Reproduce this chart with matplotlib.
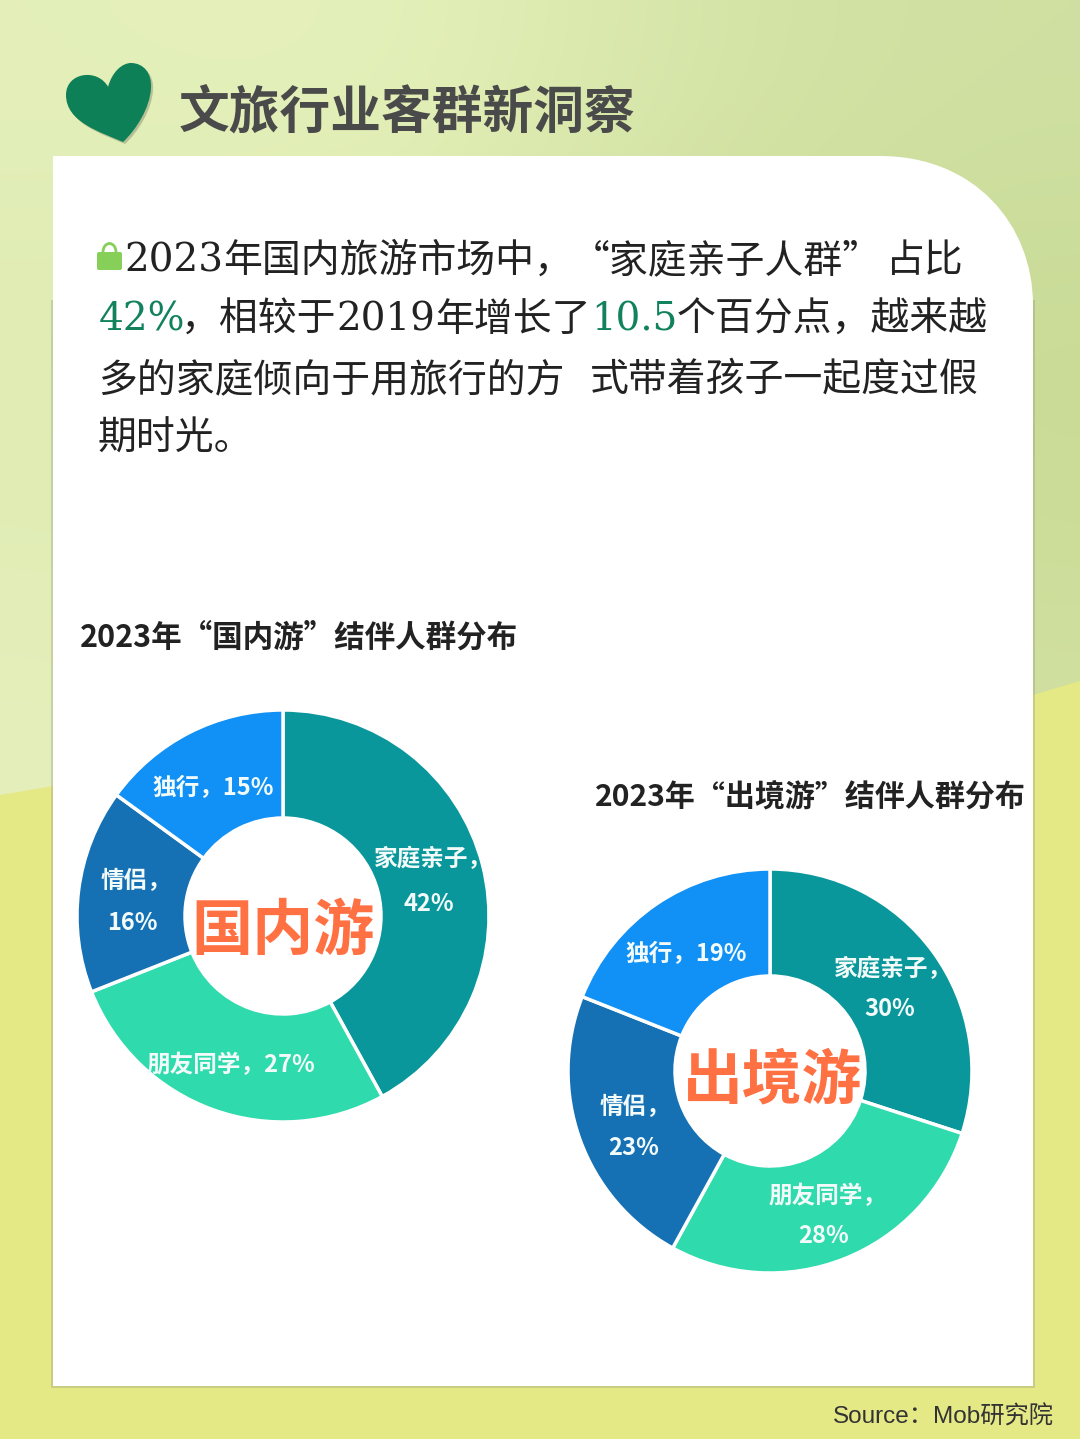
import matplotlib
matplotlib.use("Agg")
import matplotlib.pyplot as plt
import numpy as np
from matplotlib.patches import FancyBboxPatch, PathPatch, Polygon, Arc, Rectangle
from matplotlib.path import Path

W, H = 1080, 1439

categories = ["家庭亲子", "朋友同学", "情侣", "独行"]
domestic_values = [42, 27, 16, 15]
outbound_values = [30, 28, 23, 19]
colors = ["#0A979B", "#2FDAAC", "#1570B4", "#1190F5"]

title = "文旅行业客群新洞察"
domestic_title = "2023年“国内游”结伴人群分布"
outbound_title = "2023年“出境游”结伴人群分布"
source = "Source：Mob研究院"

CJK = "Noto Sans CJK SC"
BODY = ["DejaVu Serif", CJK]
INK = "#222222"
GREEN = "#12825E"

# text runs of the paragraph: x, y, string, colour
body_runs = [
    (124, 261, "2023", INK), (223, 261, "年国内旅游市场中，", INK),
    (571, 261, "“家庭亲子人群”", INK), (886, 261, "占比", INK),
    (99, 320, "42%", GREEN), (181, 320, "，相较于", INK), (336, 320, "2019", INK),
    (435, 320, "年增长了", INK), (591, 320, "10.5", GREEN),
    (677, 320, "个百分点，越来越", INK),
    (98, 380, "多的家庭倾向于用旅行的方", INK), (590, 380, "式带着孩子一起度过假", INK),
    (98, 439, "期时光。", INK),
]

fig = plt.figure(figsize=(W / 100, H / 100), dpi=100)

# background and card
bg = fig.add_axes([0, 0, 1, 1])
bg.axis("off")

wash = np.array([
    ["#E4EFBA", "#E6F2BC", "#D6E5A8", "#CFE0A2"],
    ["#DFECB2", "#D9E8AA", "#CEDF9C", "#C9DB96"],
    ["#E2EDB6", "#DEEAB0", "#D4E3A4", "#CBDC98"],
    ["#E5EFBC", "#E2ECB6", "#DAE7AC", "#D2E1A2"],
])
rgb = np.array([[matplotlib.colors.to_rgb(c) for c in row] for row in wash])
bg.imshow(rgb, extent=(0, W, 850, 0), interpolation="bicubic", aspect="auto", zorder=0)
bg.set_xlim(0, W)
bg.set_ylim(H, 0)
bg.add_patch(Polygon([(0, 795), (53, 786), (1033, 695), (W, 681), (W, H), (0, H)],
                     fc="#E4E986", ec="none", zorder=1))

card_verts = [(53, 156), (880, 156), (975, 156), (1033, 225), (1033, 305),
              (1033, 1386), (53, 1386), (53, 156)]
card_codes = [Path.MOVETO, Path.LINETO, Path.CURVE4, Path.CURVE4, Path.CURVE4,
              Path.LINETO, Path.LINETO, Path.CLOSEPOLY]
bg.add_patch(Rectangle((51, 300), 984, 1088, fc="#8A8F70", ec="none", alpha=0.3, zorder=2))
bg.add_patch(PathPatch(Path(card_verts, card_codes), fc="white", ec="none", zorder=3))

# heart
heart_verts = [(123, 142), (100, 132), (66, 122), (66, 95), (66, 72), (98, 68),
               (108, 87), (112, 72), (122, 63), (131, 63), (144, 63), (152, 74),
               (151, 88), (150, 108), (136, 130), (123, 142)]
heart_codes = [Path.MOVETO] + [Path.CURVE4] * 15
bg.add_patch(PathPatch(Path([(x + 2, y + 2) for x, y in heart_verts], heart_codes),
                       fc="#7E8A68", ec="none", alpha=0.45, zorder=4))
bg.add_patch(PathPatch(Path(heart_verts, heart_codes), fc="#0E8058", ec="none", zorder=5))

# lock icon
bg.add_patch(FancyBboxPatch((97, 252), 25, 18, boxstyle="round,pad=0,rounding_size=2",
                            fc="#86D05A", ec="none", zorder=5))
bg.add_patch(Arc((109.5, 252), 13, 17, theta1=180, theta2=360, ec="#86D05A", lw=2, zorder=5))


# donuts
def donut(values, cx, cy, r, hole):
    ax = fig.add_axes([(cx - r) / W, 1 - (cy + r) / H, 2 * r / W, 2 * r / H])
    ax.pie(values, colors=colors, startangle=90, counterclock=False, radius=1,
           wedgeprops={"width": 1 - hole / r, "edgecolor": "white", "linewidth": 2.5})
    ax.set_xlim(-1, 1)
    ax.set_ylim(-1, 1)
    return ax


donut(domestic_values, 283, 916, 206, 98)
donut(outbound_values, 770, 1071, 202, 95)

# all text on an overlay
top = fig.add_axes([0, 0, 1, 1], facecolor="none")
top.set_xlim(0, W)
top.set_ylim(H, 0)
top.axis("off")

top.text(179, 113, title, family=CJK, fontsize=36.5, weight="bold", color="#4A4A4A",
         ha="left", va="center")

for x, y, s, c in body_runs:
    family = BODY if any(ch.isascii() for ch in s) else CJK
    top.text(x, y, s, family=family, fontsize=28, color=c, ha="left", va="center")

top.text(80, 638, domestic_title, family=CJK, fontsize=22, weight="bold", color=INK,
         ha="left", va="center")
top.text(595, 798, outbound_title, family=CJK, fontsize=21.6, weight="bold", color=INK,
         ha="left", va="center")
top.text(833, 1417, source, family=["Liberation Sans", CJK], fontsize=17.5, color="#333333",
         ha="left", va="center")


def label(x, y, s):
    top.text(x, y, s, family=CJK, fontsize=17, weight="bold", color="#F2FBFA",
             ha="center", va="center")


label(433, 859, categories[0] + "，")
label(429, 904, f"{domestic_values[0]}%")
label(231, 1065, f"{categories[1]}，{domestic_values[1]}%")
label(136, 881, categories[2] + "，")
label(132, 923, f"{domestic_values[2]}%")
label(213, 788, f"{categories[3]}，{domestic_values[3]}%")

label(893, 969, categories[0] + "，")
label(890, 1009, f"{outbound_values[0]}%")
label(828, 1196, categories[1] + "，")
label(824, 1236, f"{outbound_values[1]}%")
label(635, 1107, categories[2] + "，")
label(634, 1148, f"{outbound_values[2]}%")
label(686, 954, f"{categories[3]}，{outbound_values[3]}%")

top.text(283, 932, "国内游", family=CJK, fontsize=44, weight="bold", color="#FF7043",
         ha="center", va="center")
top.text(773, 1081, "出境游", family=CJK, fontsize=43, weight="bold", color="#FF7043",
         ha="center", va="center")

fig.savefig("out.png", dpi=100)
